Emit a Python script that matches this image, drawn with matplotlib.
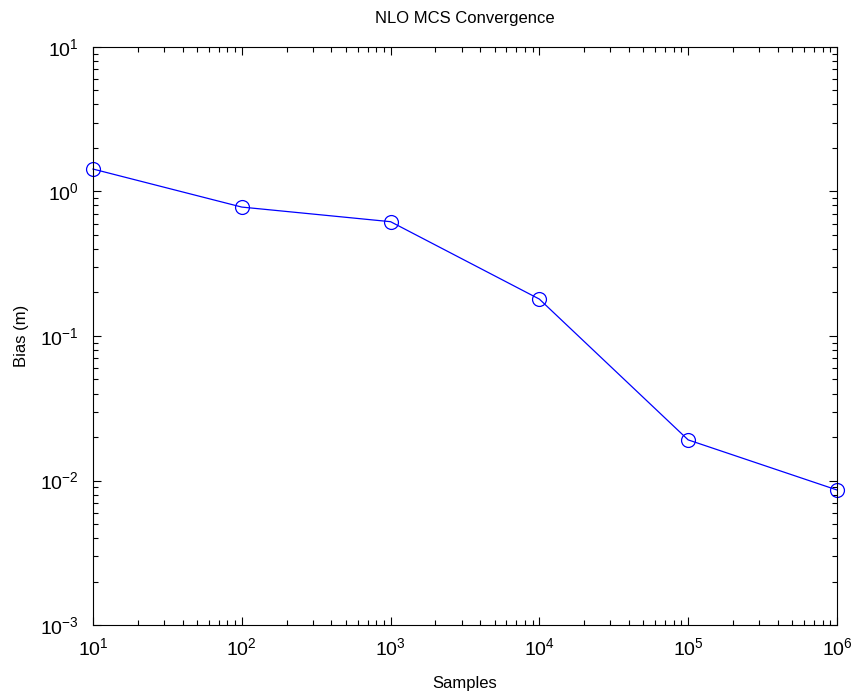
import matplotlib
matplotlib.use("Agg")
import matplotlib.pyplot as plt
from matplotlib.ticker import LogLocator, NullFormatter

plt.rcParams['font.family'] = ['Liberation Sans', 'DejaVu Sans']

samples = [1e1, 1e2, 1e3, 1e4, 1e5, 1e6]
bias = [1.43, 0.78, 0.618, 0.180, 0.0191, 0.0086]

fig = plt.figure(figsize=(8.51, 6.95), dpi=100)
ax = fig.add_axes([0.1093, 0.1007, 0.8742, 0.8317])

ax.loglog(samples, bias, '-o', color='#0000ff', linewidth=0.9,
          markersize=10, markerfacecolor='none', markeredgewidth=0.9,
          clip_on=False)

ax.set_xlim(1e1, 1e6)
ax.set_ylim(1e-3, 1e1)
ax.xaxis.set_major_locator(LogLocator(base=10, numticks=10))
ax.yaxis.set_major_locator(LogLocator(base=10, numticks=10))
ax.xaxis.set_minor_locator(LogLocator(base=10, subs=range(2, 10), numticks=20))
ax.yaxis.set_minor_locator(LogLocator(base=10, subs=range(2, 10), numticks=20))
ax.xaxis.set_minor_formatter(NullFormatter())
ax.yaxis.set_minor_formatter(NullFormatter())

ax.tick_params(which='both', direction='in', top=True, right=True,
               labelsize=14, width=0.8)
ax.tick_params(which='major', length=6)
ax.tick_params(which='minor', length=3.5)
ax.tick_params(axis='x', pad=9)
ax.tick_params(axis='y', pad=10)
for s in ax.spines.values():
    s.set_linewidth(0.8)

ax.set_xlabel('Samples', fontsize=12, labelpad=12)
ax.set_ylabel('Bias (m)', fontsize=12, labelpad=8)
ax.set_title('NLO MCS Convergence', fontsize=12, pad=17)

fig.savefig('out.png', dpi=100)
